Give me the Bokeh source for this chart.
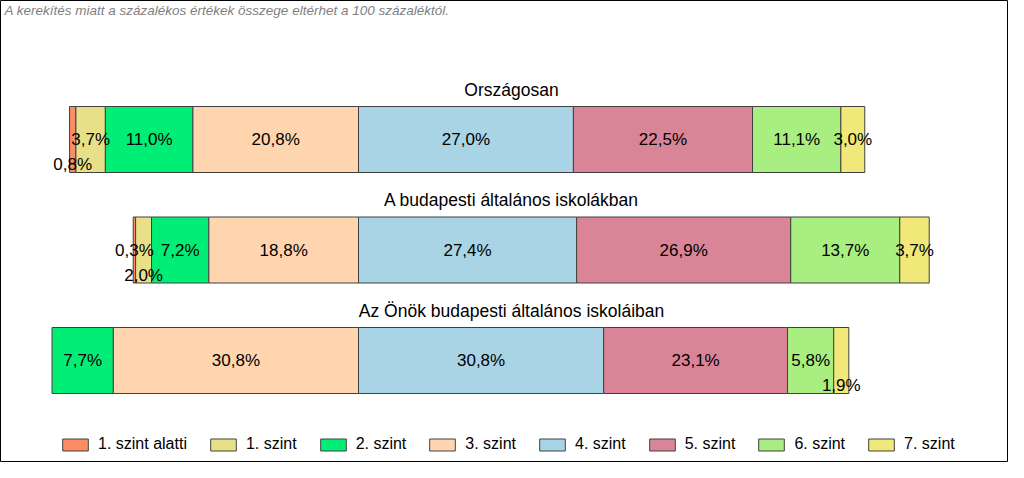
from bokeh.plotting import figure
from bokeh.models import ColumnDataSource, Range1d, Label, Legend, LegendItem
from bokeh.core.properties import value
from bokeh.embed import file_html
from bokeh.resources import INLINE

# ---------------- data ----------------
levels = ["1. szint alatti", "1. szint", "2. szint", "3. szint",
          "4. szint", "5. szint", "6. szint", "7. szint"]
groups = ["Országosan",
          "A budapesti általános iskolákban",
          "Az Önök budapesti általános iskoláiban"]
orszagosan = [0.8, 3.7, 11.0, 20.8, 27.0, 22.5, 11.1, 3.0]
budapesti = [0.3, 2.0, 7.2, 18.8, 27.4, 26.9, 13.7, 3.7]
onok = [0.0, 0.0, 7.7, 30.8, 30.8, 23.1, 5.8, 1.9]
note = "A kerekítés miatt a  százalékos értékek összege eltérhet a 100 százaléktól."

# ---------------- style ----------------
colors = ["#FA8C66", "#E8E088", "#00EE76", "#FFD5B0",
          "#A8D4E6", "#D98497", "#A8EE80", "#F0E878"]
outline = "#404040"
FONT = "Liberation Sans"

W, H = 1008, 462
ZERO_PX = 358          # pixel position of the 3./4. szint boundary
PX_PER_PCT = 7.96
ROW_PX = 110.5
FIRST_ROW_PX = 139
BAR_H = 66 / ROW_PX
SHIFT = 25 / ROW_PX
shifted = {(0, 0), (1, 1), (2, 7)}   # labels pushed down to avoid overlap

rows = [orszagosan, budapesti, onok]

x_range = Range1d(-ZERO_PX / PX_PER_PCT, (W - ZERO_PX) / PX_PER_PCT)
top = -FIRST_ROW_PX / ROW_PX
y_range = Range1d(top + H / ROW_PX, top)

p = figure(width=W, height=H, x_range=x_range, y_range=y_range,
           output_backend="svg", toolbar_location=None,
           x_axis_location=None, y_axis_location=None,
           min_border=0, background_fill_color="white",
           border_fill_color="white")
p.grid.visible = False
p.outline_line_color = "black"
p.outline_line_width = 1

# segment extents: diverging around the 3./4. boundary
lefts, rights = [], []
for vals in rows:
    start = -sum(vals[:4])
    l, r = [], []
    acc = start
    for v in vals:
        l.append(acc)
        acc += v
        r.append(acc)
    lefts.append(l)
    rights.append(r)

items = []
for j, lev in enumerate(levels):
    ys, ls, rs = [], [], []
    for i in range(len(rows)):
        if rows[i][j] > 0:
            ys.append(i)
            ls.append(lefts[i][j])
            rs.append(rights[i][j])
    src = ColumnDataSource(dict(y=ys, left=ls, right=rs))
    r = p.hbar(y="y", left="left", right="right", height=BAR_H, source=src,
               fill_color=colors[j], line_color=outline, line_width=1)
    items.append(LegendItem(label=lev, renderers=[r]))

# value labels
lx, ly, lt = [], [], []
for i, vals in enumerate(rows):
    for j, v in enumerate(vals):
        if v <= 0:
            continue
        lx.append((lefts[i][j] + rights[i][j]) / 2)
        ly.append(i + (SHIFT if (i, j) in shifted else 0))
        lt.append(f"{v:.1f}".replace(".", ",") + "%")
p.text(x="x", y="y", text="t", source=ColumnDataSource(dict(x=lx, y=ly, t=lt)),
       text_align="center", text_baseline="middle",
       text_font=value(FONT), text_font_size="17px", text_color="black")

# group titles
for i, g in enumerate(groups):
    p.add_layout(Label(x=511, x_units="screen", y=i - 0.448, text=g,
                       text_align="center", text_baseline="middle",
                       text_font=FONT, text_font_size="17.5px",
                       text_color="black"))

# note
p.add_layout(Label(x=4, y=H - 2, x_units="screen", y_units="screen",
                   text=note, text_align="left", text_baseline="top",
                   text_font=FONT, text_font_style="italic",
                   text_font_size="13.5px", text_color="#7f7f7f"))

legend = Legend(items=items, orientation="horizontal", location=(59, 9),
                glyph_width=32, glyph_height=15, label_height=15,
                label_standoff=7, spacing=20, padding=0, margin=0,
                label_text_font=FONT, label_text_font_size="16px",
                label_text_color="black", border_line_color=None,
                background_fill_alpha=0)
p.add_layout(legend, "center")

open("out.html", "w").write(file_html(p, INLINE))
